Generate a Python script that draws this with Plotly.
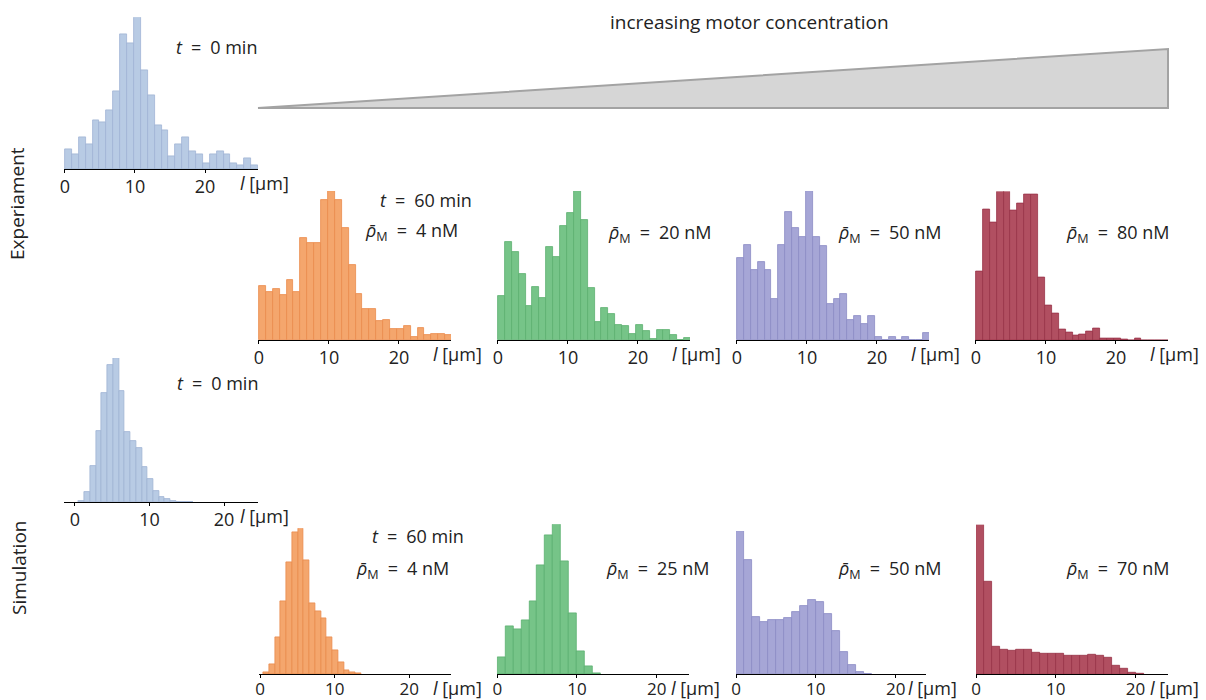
import plotly.graph_objects as go

W, H = 1206, 700

# ---------------- data (relative bar heights) ----------------
exp_t0 = [61, 46, 97, 74, 147, 141, 176, 235, 406, 378, 456, 296, 221, 133, 117, 39,
          75, 97, 53, 46, 18, 46, 54, 46, 18, 13, 33, 13]
exp_4nM = [163, 145, 154, 137, 180, 145, 308, 292, 292, 422, 448, 422, 336, 225, 138, 94,
           94, 59, 61, 33, 33, 43, 11, 36, 16, 19, 19, 16]
exp_20nM = [133, 295, 263, 200, 103, 159, 126, 278, 248, 342, 382, 447, 359, 157, 54, 96,
            78, 46, 44, 19, 45, 28, 5, 31, 31, 16, 0, 7]
exp_50nM = [248, 286, 211, 234, 211, 124, 286, 386, 336, 309, 448, 309, 284, 110, 123, 139,
            60, 72, 50, 72, 11, 0, 11, 0, 11, 0, 0, 22]
exp_80nM = [206, 389, 351, 444, 444, 386, 408, 434, 434, 188, 104, 80, 31, 23, 13, 16,
            25, 34, 5, 5, 5, 2, 0, 4, 0, 0, 0, 0]

sim_t0 = [3, 32, 110, 213, 327, 412, 433, 333, 212, 183, 162, 106, 71, 34, 16, 9, 4, 2, 1, 1]
sim_4nM = [5, 30, 111, 219, 334, 424, 437, 342, 212, 187, 167, 110, 72, 35, 12, 6, 2]
sim_25nM = [51, 143, 136, 163, 220, 326, 418, 450, 338, 184, 68, 23, 3]
sim_50nM = [430, 342, 172, 156, 163, 163, 169, 187, 205, 223, 217, 180, 130, 66, 27, 8, 1]
sim_70nM = [449, 277, 82, 74, 71, 75, 75, 66, 63, 63, 62, 56, 56, 56, 59, 56, 50, 27, 16, 5, 2]

tick_vals = [0, 10, 20]
tick_text = ["0", "10", "20"]

exp_labels = ["4", "20", "50", "80"]
sim_labels = ["4", "25", "50", "70"]

# ---------------- styles ----------------
BLUE = ("#b8cbe4", "#9fb4d4")
ORANGE = ("#f4a66d", "#ea8c4c")
GREEN = ("#76c488", "#5cb070")
PURPLE = ("#a6a6d6", "#8c8cc4")
RED = ("#b14f61", "#983248")

FONT = "Open Sans"
TXT = "#222222"
FS = 18
SP = "\u2002"

# panel geometry in pixels; 'bottom' marks panels whose tick labels sit at the page edge
panels = [
    dict(c=exp_t0, col=BLUE, px=(64, 258), py=(17.3, 169.3), xr=(-0.14, 27.57), b0=0.0, bw=0.985),
    dict(c=exp_4nM, col=ORANGE, px=(258, 451), py=(191, 340.3), xr=(-0.14, 27.43), b0=0.0, bw=0.985),
    dict(c=exp_20nM, col=GREEN, px=(497, 690), py=(191, 340.3), xr=(-0.14, 27.43), b0=0.0, bw=0.985),
    dict(c=exp_50nM, col=PURPLE, px=(736, 929), py=(191, 340.3), xr=(-0.14, 27.43), b0=0.0, bw=0.985),
    dict(c=exp_80nM, col=RED, px=(975, 1168), py=(191.5, 340.3), xr=(-0.14, 27.43), b0=0.0, bw=0.985),
    dict(c=sim_t0, col=BLUE, px=(64.3, 258.3), py=(358, 502.3), xr=(-1.43, 24.6), b0=0.5, bw=0.77),
    dict(c=sim_4nM, col=ORANGE, px=(259.3, 451), py=(528.3, 674.2), xr=(-0.1, 25.6), b0=0.45, bw=0.77, bottom=True),
    dict(c=sim_25nM, col=GREEN, px=(496.7, 689.3), py=(524.3, 674.2), xr=(-0.08, 24.1), b0=0.0, bw=1.0, bottom=True),
    dict(c=sim_50nM, col=PURPLE, px=(736, 926), py=(531, 674.2), xr=(0.0, 23.8), b0=0.0, bw=1.0, bottom=True),
    dict(c=sim_70nM, col=RED, px=(976, 1168.3), py=(524.7, 674.2), xr=(0.0, 24.1), b0=0.0, bw=1.0, bottom=True),
]


def fx(p):
    return p / W


def fy(p):
    return 1 - p / H


fig = go.Figure()
layout = dict(
    template="none",
    width=W, height=H,
    margin=dict(l=0, r=0, t=0, b=0, pad=0, autoexpand=False),
    paper_bgcolor="white", plot_bgcolor="white",
    showlegend=False,
    font=dict(family=FONT, color=TXT),
    bargap=0,
)
annotations = []


def ann(text, x, y, xa="right", size=FS, angle=0):
    annotations.append(dict(text=text, xref="paper", yref="paper", x=fx(x), y=fy(y),
                            xanchor=xa, yanchor="middle", showarrow=False, textangle=angle,
                            font=dict(size=size, family=FONT, color=TXT)))


for i, p in enumerate(panels, start=1):
    n = len(p["c"])
    centers = [p["b0"] + p["bw"] * (k + 0.5) for k in range(n)]
    fig.add_trace(go.Bar(
        x=centers, y=p["c"], width=[p["bw"]] * n,
        marker=dict(color=p["col"][0], line=dict(color=p["col"][1], width=0.8)),
        xaxis=f"x{i}", yaxis=f"y{i}", hoverinfo="skip",
    ))
    bottom = p.get("bottom", False)
    sfx = "" if i == 1 else str(i)
    layout[f"xaxis{sfx}"] = dict(
        domain=[fx(p["px"][0]), fx(p["px"][1])], range=list(p["xr"]),
        anchor=f"y{i}", showline=True, linecolor="black", linewidth=1.3,
        ticks="outside", ticklen=3, tickwidth=1.2, tickcolor="black",
        tickvals=tick_vals, ticktext=tick_text,
        ticklabelstandoff=-4 if bottom else -2,
        tickfont=dict(size=17 if bottom else 18, family=FONT, color=TXT),
        showgrid=False, zeroline=False, fixedrange=True, automargin=False,
    )
    layout[f"yaxis{sfx}"] = dict(
        domain=[fy(p["py"][1]), fy(p["py"][0])], range=[0, max(p["c"])],
        anchor=f"x{i}", visible=False, fixedrange=True, automargin=False,
    )
    ann("<i>l</i> [µm]", p["px"][1] - 20, p["py"][1] + 14, xa="left", size=18)

# time labels
ann(f"<i>t</i>{SP}={SP}0 min", 259, 47)
ann(f"<i>t</i>{SP}={SP}60 min", 474, 200)
ann(f"<i>t</i>{SP}={SP}0 min", 260, 383)
ann(f"<i>t</i>{SP}={SP}60 min", 466, 536)

rho = "<i>\u03c1\u0304</i><sub>M</sub>"
exp_pos = [(460, 231), (713, 233), (943, 233), (1171, 233)]
sim_pos = [(451, 569), (711, 569), (943, 569), (1171, 569)]
for lab, (xr, yc) in zip(exp_labels, exp_pos):
    ann(f"{rho}{SP}={SP}{lab} nM", xr, yc)
for lab, (xr, yc) in zip(sim_labels, sim_pos):
    ann(f"{rho}{SP}={SP}{lab} nM", xr, yc)

# header & row labels
ann("increasing motor concentration", 750, 22, xa="center", size=19)
ann("Experiament", 17, 204, xa="center", size=19, angle=-90)
ann("Simulation", 19, 568, xa="center", size=19, angle=-90)

layout["annotations"] = annotations
layout["shapes"] = [dict(
    type="path", xref="paper", yref="paper",
    path=f"M {fx(258)} {fy(108)} L {fx(1168)} {fy(49)} L {fx(1168)} {fy(108)} Z",
    fillcolor="#d6d6d6", line=dict(color="#a3a3a3", width=2), layer="below",
)]

fig.update_layout(**layout)
fig.write_html("out.html")
